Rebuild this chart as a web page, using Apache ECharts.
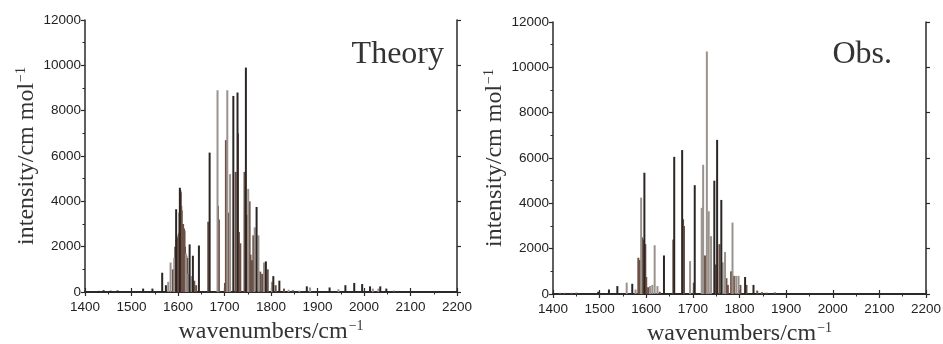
<!DOCTYPE html>
<html><head><meta charset="utf-8">
<script src="https://cdn.jsdelivr.net/npm/echarts@6/dist/echarts.min.js"></script>
<style>html,body{margin:0;padding:0;background:#fff}#c{width:943px;height:344px}</style>
</head><body><div id="c"></div>
<script>
// x ticks / y ticks
const xTicks = [1400,1500,1600,1700,1800,1900,2000,2100,2200];
const yTicks = [0,2000,4000,6000,8000,10000,12000];
const panelTitles = ["Theory", "Obs."];

// Theory sticks [wavenumber, intensity]
const theoryDark = [[1430,50],[1440,80],[1455,60],[1470,70],[1525,150],[1545,150],[1566,850],[1574,300],[1596,3650],[1604,4600],[1625,2100],[1632,1600],[1645,2050],[1668,6150],[1719,8650],[1728,8800],[1746,9900],[1769,3750],[1789,1350],[1805,700],[1818,500],[1877,250],[1926,200],[1960,300],[1979,400],[1996,350],[2013,250],[2035,250],[2048,150]];
const theoryGray = [[1579,450],[1584,1300],[1592,1500],[1617,1700],[1622,800],[1629,700],[1685,8900],[1706,8900],[1712,5200],[1751,4550],[1765,2850],[1773,2500],[1785,1300],[1802,450],[1838,100],[1861,60],[1884,200],[1945,120],[2019,150],[2031,150]];
const theoryBrown = [[1589,1000],[1594,2000],[1597,2300],[1599,2400],[1601,2500],[1602,2600],[1603,3500],[1605,4500],[1606,4400],[1607,3800],[1608,3600],[1609,3000],[1610,2900],[1611,3000],[1613,2800],[1614,2700],[1615,2000],[1618,1600],[1620,1500],[1635,500],[1639,300],[1665,3100],[1686,3800],[1688,3200],[1701,400],[1703,6700],[1708,3500],[1724,5300],[1729,7000],[1731,2650],[1734,2150],[1743,5300],[1748,3400],[1754,4000],[1756,1650],[1759,1400],[1762,2500],[1777,900],[1781,800],[1793,1000],[1810,300],[1828,150],[1847,80],[2064,60]];

// Observed sticks [wavenumber, intensity]
const obsDark = [[1497,100],[1520,200],[1538,350],[1570,450],[1596,5350],[1638,1700],[1660,6050],[1677,6350],[1704,4800],[1746,5000],[1752,6800],[1761,4150],[1812,750],[1830,400]];
const obsGray = [[1558,500],[1577,200],[1589,4250],[1608,350],[1613,400],[1618,2150],[1624,350],[1694,1450],[1719,3800],[1722,5700],[1730,10700],[1734,3650],[1739,2550],[1764,1400],[1769,1850],[1785,3150],[1793,800],[1798,800]];
const obsBrown = [[1415,50],[1425,50],[1440,50],[1450,60],[1583,1600],[1586,1500],[1591,2500],[1593,2400],[1598,2200],[1600,750],[1604,300],[1629,100],[1658,2400],[1679,3300],[1681,3000],[1702,500],[1726,1700],[1749,1300],[1757,2200],[1772,700],[1775,400],[1782,1000],[1788,800],[1802,400],[1815,400],[1838,150],[1848,80],[1858,60],[1876,70]];

const chart = echarts.init(document.getElementById('c'), null, {renderer:'canvas'});
const AX = '#2a2a2a';
const serif = '"Liberation Serif", "DejaVu Serif", serif';
const sans = '"Liberation Sans", Arial, sans-serif';
const grids = [
  {left:85, top:20, width:372, height:272, outerBoundsMode:'none', containLabel:false},
  {left:553, top:22, width:373, height:272, outerBoundsMode:'none', containLabel:false}
];
const xAxes = [], yAxes = [];
const nameRich = {
  b:{fontFamily:serif, fontSize:24, color:'#333', lineHeight:25, verticalAlign:'bottom'},
  s:{fontFamily:serif, fontSize:14, color:'#333', lineHeight:14, verticalAlign:'top', padding:[0,0,0,1]}
};
const plain = v => String(v);
grids.forEach((g,i)=>{
  xAxes.push({gridIndex:i, type:'value', min:xTicks[0], max:xTicks[xTicks.length-1], interval:100, position:'bottom',
    axisLine:{show:true, onZero:false, lineStyle:{color:AX, width:1.5}},
    axisTick:{show:true, inside:false, length:4, lineStyle:{color:AX, width:1.2}},
    minorTick:{show:true, splitNumber:2, length:2.5, lineStyle:{color:AX, width:1}},
    splitLine:{show:false},
    axisLabel:{fontFamily:sans, fontSize:13.5, color:'#222', margin:8, formatter:plain},
    name:'{b|wavenumbers/cm}{s|\u22121}', nameLocation:'middle', nameGap:26,
    nameTextStyle:{rich:nameRich}
  });
  xAxes.push({gridIndex:i, type:'value', min:xTicks[0], max:xTicks[xTicks.length-1], interval:100, position:'top',
    axisLine:{show:true, lineStyle:{color:AX, width:2}},
    axisTick:{show:true, inside:false, length:4, lineStyle:{color:AX, width:1.2}},
    axisLabel:{show:false}, splitLine:{show:false}
  });
  yAxes.push({gridIndex:i, type:'value', min:yTicks[0], max:yTicks[yTicks.length-1], interval:2000, position:'left',
    axisLine:{show:true, onZero:false, lineStyle:{color:AX, width:1.5}},
    axisTick:{show:true, inside:false, length:4, lineStyle:{color:AX, width:1.2}},
    minorTick:{show:true, splitNumber:2, length:2.5, lineStyle:{color:AX, width:1}},
    splitLine:{show:false},
    axisLabel:{fontFamily:sans, fontSize:13.5, color:'#222', margin:4, formatter:plain},
    name:'{b|intensity/cm mol}{s|\u22121}', nameLocation:'middle', nameGap:46, nameRotate:90,
    nameTextStyle:{rich:nameRich}
  });
  yAxes.push({gridIndex:i, type:'value', min:yTicks[0], max:yTicks[yTicks.length-1], interval:2000, position:'right',
    axisLine:{show:true, lineStyle:{color:AX, width:1.5}},
    axisTick:{show:true, inside:false, length:4, lineStyle:{color:AX, width:1.2}},
    axisLabel:{show:false}, splitLine:{show:false}
  });
});
function stick(data, xi, yi, color){
  return {type:'bar', xAxisIndex:xi, yAxisIndex:yi, data:data, barWidth:2, barGap:'-100%',
    itemStyle:{color:color}, silent:true, animation:false};
}
const C_DARK='#2b2624', C_GRAY='#9a928d', C_BROWN='#6d5045';
chart.setOption({
  animation:false,
  grid:grids,
  xAxis:xAxes, yAxis:yAxes,
  series:[
    stick(theoryBrown,0,0,C_BROWN), stick(theoryGray,0,0,C_GRAY), stick(theoryDark,0,0,C_DARK),
    stick(obsBrown,2,2,C_BROWN), stick(obsGray,2,2,C_GRAY), stick(obsDark,2,2,C_DARK)
  ],
  graphic:[
    {type:'text', x:444, y:55, style:{text:panelTitles[0], font:'32px '+serif, fill:'#333', textAlign:'right', textVerticalAlign:'middle'}},
    {type:'text', x:892, y:55, style:{text:panelTitles[1], font:'32px '+serif, fill:'#333', textAlign:'right', textVerticalAlign:'middle'}}
  ]
});
</script></body></html>
